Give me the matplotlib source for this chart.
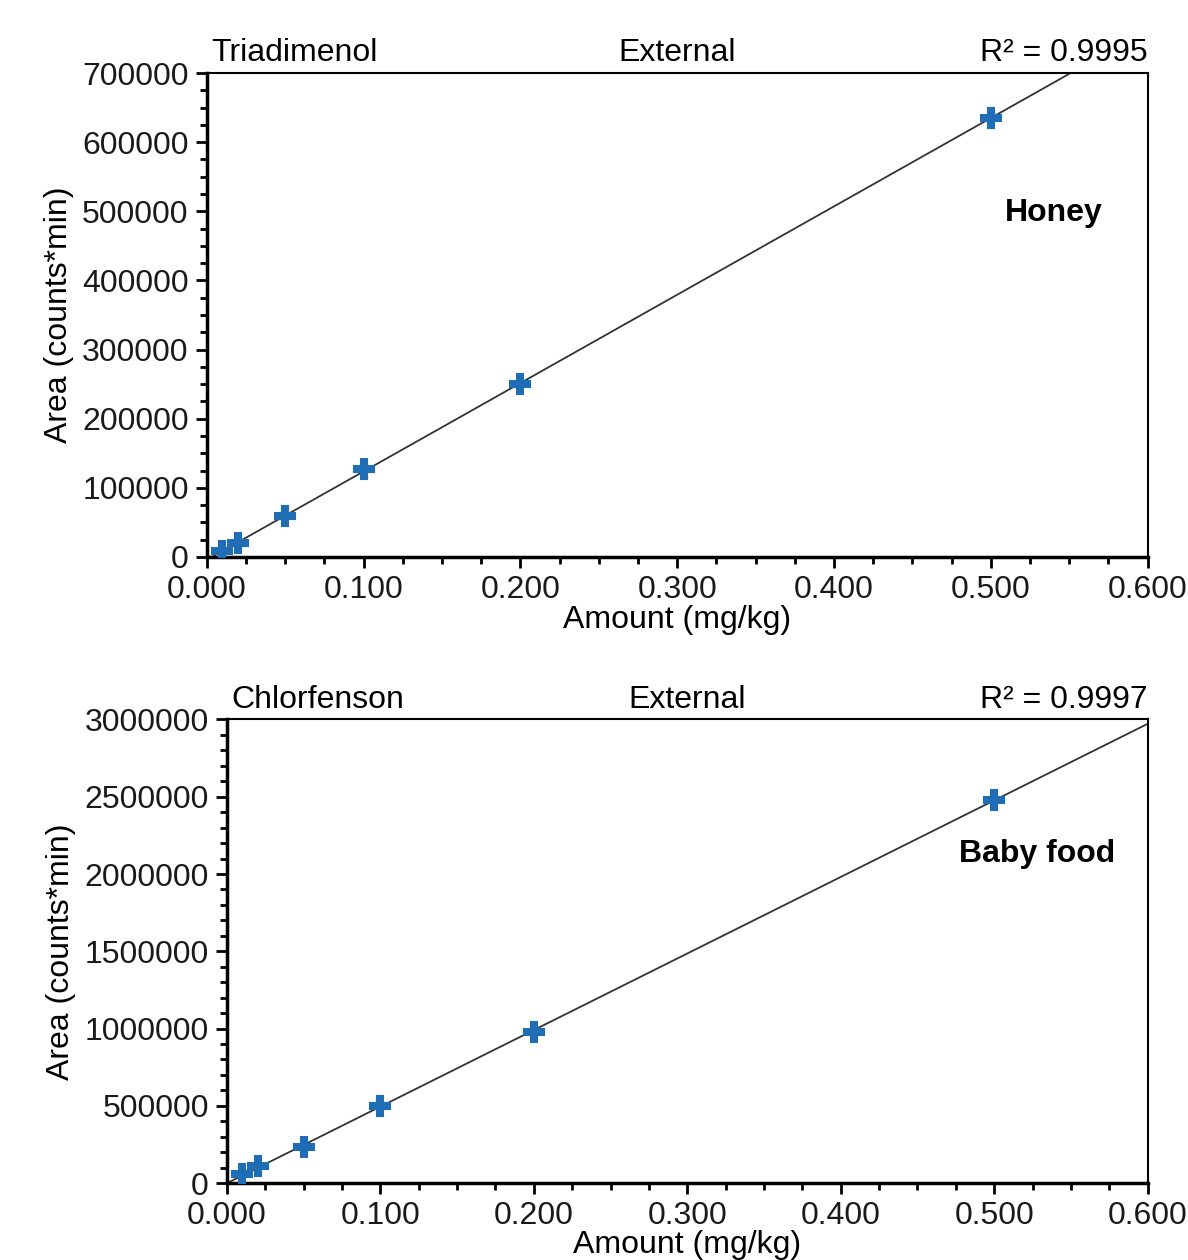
import numpy as np
import matplotlib.pyplot as plt
from matplotlib.ticker import MultipleLocator, FormatStrFormatter

plt.rcParams['font.family'] = ['Liberation Sans', 'DejaVu Sans']

# Honey / Triadimenol calibration
honey_amount = [0.01, 0.02, 0.05, 0.10, 0.20, 0.50]
honey_area = [8700, 20000, 59000, 127000, 250000, 635000]
honey_r2 = "0.9995"

# Baby food / Chlorfenson calibration
baby_amount = [0.01, 0.02, 0.05, 0.10, 0.20, 0.50]
baby_area = [57000, 108000, 236000, 498000, 976000, 2482000]
baby_r2 = "0.9997"

FS = 23
BLUE = '#1f6db5'


def draw(ax, amount, area, compound, matrix, r2, ymax, ymajor, yminor,
         matrix_pos, xpad):
    slope, icpt = np.polyfit(amount, area, 1)
    xs = np.array([0.0, 0.6])
    ax.plot(xs, slope * xs + icpt, color='#333333', lw=1.3, zorder=2)
    ax.plot(amount, area, ls='none', marker='P', ms=15, color=BLUE,
            mec=BLUE, mew=1.5, zorder=3)
    ax.plot([0], [0], ls='none', marker='o', ms=4, color='#e8a020', zorder=1)

    ax.set_xlim(0, 0.6)
    ax.set_ylim(0, ymax)
    ax.xaxis.set_major_locator(MultipleLocator(0.1))
    ax.xaxis.set_minor_locator(MultipleLocator(0.025))
    ax.xaxis.set_major_formatter(FormatStrFormatter('%.3f'))
    ax.yaxis.set_major_locator(MultipleLocator(ymajor))
    ax.yaxis.set_minor_locator(MultipleLocator(yminor))
    ax.yaxis.set_major_formatter(FormatStrFormatter('%d'))
    ax.tick_params(which='major', length=8, width=2, labelsize=FS, pad=5,
                   top=False, right=False, labelcolor='#1a1a1a')
    ax.tick_params(which='minor', length=5, width=2, top=False, right=False)
    for s in ['left', 'bottom']:
        ax.spines[s].set_linewidth(2.5)
    for s in ['top', 'right']:
        ax.spines[s].set_linewidth(1.5)

    ax.set_xlabel('Amount (mg/kg)', fontsize=FS, labelpad=xpad)
    ax.set_ylabel('Area (counts*min)', fontsize=FS, labelpad=6)

    ax.text(0.005, 1.01, compound, transform=ax.transAxes, fontsize=FS,
            ha='left', va='bottom')
    ax.text(0.5, 1.01, 'External', transform=ax.transAxes, fontsize=FS,
            ha='center', va='bottom')
    ax.text(1.0, 1.01, 'R\u00b2 = ' + r2, transform=ax.transAxes, fontsize=FS,
            ha='right', va='bottom')
    ax.text(matrix_pos[0], matrix_pos[1], matrix, transform=ax.transAxes,
            fontsize=FS, fontweight='bold', ha='center', va='center')


fig = plt.figure(figsize=(11.88, 12.6), dpi=100)
ax1 = fig.add_axes([0.174, 0.558, 0.792, 0.384])
ax2 = fig.add_axes([0.191, 0.061, 0.775, 0.368])

draw(ax1, honey_amount, honey_area, 'Triadimenol', 'Honey', honey_r2,
     700000, 100000, 25000, (0.9, 0.71), 0)
draw(ax2, baby_amount, baby_area, 'Chlorfenson', 'Baby food', baby_r2,
     3000000, 500000, 100000, (0.88, 0.71), -1)

fig.savefig('out.png', dpi=100)
